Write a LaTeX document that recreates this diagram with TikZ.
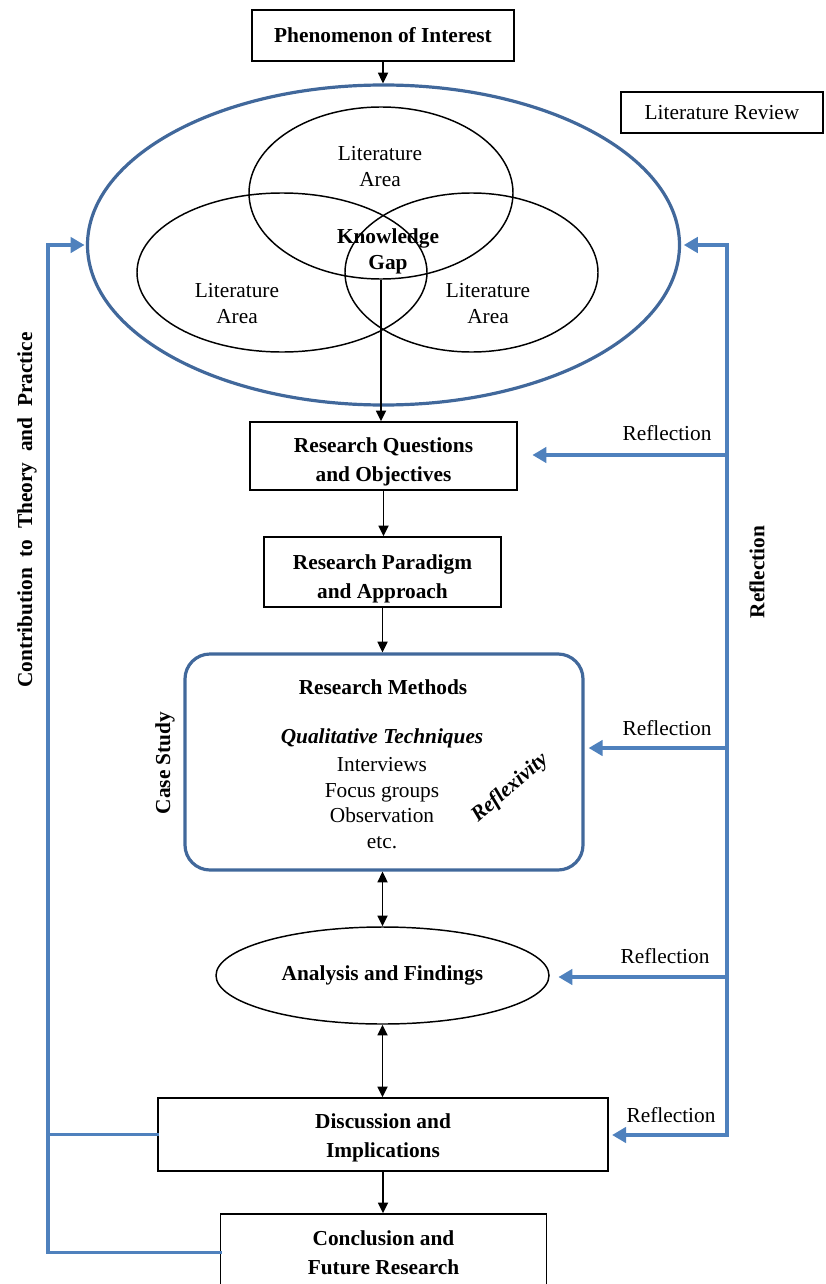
\documentclass[tikz,border=0pt]{standalone}
\usepackage{fontspec}
\setmainfont{Liberation Serif}
\usetikzlibrary{arrows.meta,shapes.geometric}
\definecolor{shapeblue}{HTML}{41689B}
\definecolor{linkblue}{HTML}{4F81BD}
\newcommand{\firstline}[1]{\rule{0pt}{#1}}
\begin{document}
\begin{tikzpicture}[x=0.75pt,y=-0.75pt,
  every node/.style={font=\fontsize{16}{19.5}\selectfont},
  box/.style={draw=black, line width=1.1pt, rectangle, inner sep=0pt, align=center,
    font=\fontsize{16}{21.75}\selectfont\bfseries},
  venn/.style={draw=black, line width=1.1pt, ellipse, inner sep=0pt},
  lbl/.style={align=center},
  boldlbl/.style={align=center, font=\fontsize{16}{19.5}\selectfont\bfseries},
  arr/.style={-{Triangle[length=8pt,width=7.5pt]}, line width=1.3pt, black},
  darr/.style={{Triangle[length=8pt,width=7.5pt]}-{Triangle[length=8pt,width=7.5pt]}, line width=1.3pt, black},
  bline/.style={linkblue, line width=2.8pt, line cap=rect},
  barr/.style={bline, -{Triangle[length=10.5pt,width=11.5pt]}},
]
\clip (0,0) rectangle (825,1284);

% top
\node[box, minimum width=196.5pt, minimum height=38.25pt] (phen) at (383,35.5) {Phenomenon of Interest};
\node[draw=black, line width=1.1pt, inner sep=0pt, minimum width=151.5pt, minimum height=30.75pt] (litrev) at (722,112.5) {Literature Review};

% literature ellipse and Venn
\node[ellipse, draw=shapeblue, line width=2.4pt, inner sep=0pt, minimum width=444pt, minimum height=240pt] (outer) at (383.5,245) {};
\node[venn, minimum width=198pt, minimum height=129pt] (vtop) at (381,193) {};
\node[venn, minimum width=217.5pt, minimum height=119.25pt] (vleft) at (282,272.5) {};
\node[venn, minimum width=189.75pt, minimum height=119.25pt] (vright) at (471.5,272.5) {};
\node[lbl] (ttop) at (380,167) {Literature\\Area};
\node[lbl] (tleft) at (237,303.5) {Literature\\Area};
\node[lbl] (tright) at (488,303.5) {Literature\\Area};
\node[boldlbl] (gap) at (388,251.5) {Knowledge\\Gap};

% main flow
\node[box, minimum width=200.25pt, minimum height=51pt] (rq) at (383.5,456) {\firstline{20.5pt}Research Questions\\and Objectives};
\node[box, minimum width=177.75pt, minimum height=52.5pt] (rp) at (382.5,572) {\firstline{21.5pt}Research Paradigm\\and Approach};
\node[draw=shapeblue, line width=2.4pt, rounded corners=18.75pt, inner sep=0pt, minimum width=298.5pt, minimum height=162pt] (meth) at (384,762) {};
\node[boldlbl] (methtitle) at (383,687) {Research Methods};
\node[font=\fontsize{16}{19.5}\selectfont\bfseries\itshape] (qual) at (382,738) {Qualitative Techniques};
\node[lbl, font=\fontsize{16}{19.1}\selectfont] (techs) at (382,803) {Interviews\\Focus groups\\Observation\\etc.};
\node[rotate=41, font=\fontsize{16}{19.5}\selectfont\bfseries\itshape] (reflex) at (510,788) {Reflexivity};
\node[rotate=90, boldlbl] (case) at (165,763) {Case Study};
\node[ellipse, draw=black, line width=1.1pt, inner sep=0pt, minimum width=249.75pt, minimum height=72.75pt, font=\fontsize{16}{19.5}\selectfont\bfseries] (ana) at (382.5,975.5) {Analysis and Findings};
\node[box, minimum width=337.5pt, minimum height=54.75pt] (disc) at (383,1134.5) {\firstline{15.5pt}Discussion and\\Implications};
\node[box, minimum width=244.5pt, minimum height=57.75pt] (concl) at (383.5,1252.5) {Conclusion and\\Future Research};

% side labels
\node (rf1) at (667,433) {Reflection};
\node (rf2) at (667,728) {Reflection};
\node (rf3) at (665,956) {Reflection};
\node (rf4) at (671,1115) {Reflection};
\node[rotate=90, boldlbl] (rfv) at (757,572) {Reflection};
\node[rotate=90, boldlbl] (contrib) at (27,510) {Contribution\ \ to\ \ Theory\ \ and\ \ Practice};

% black arrows
\draw[arr] (phen.south) -- (phen.south |- outer.north);
\draw[arr] (vtop.south) -- (vtop.south |- rq.north);
\draw[arr] (rq.south) -- (rq.south |- rp.north);
\draw[arr] (rp.south) -- (rp.south |- meth.north);
\draw[darr] (meth.south -| ana.north) -- (ana.north);
\draw[darr] (ana.south) -- (ana.south |- disc.north);
\draw[arr] (disc.south) -- (disc.south |- concl.north);

% right reflection bus
\coordinate (rtop) at (727,245);
\coordinate (r1) at (727,455);
\coordinate (r2) at (727,748);
\coordinate (r3) at (727,977);
\coordinate (rbot) at (727,1135);
\draw[barr, shorten >=2pt] (rbot) -- (rtop) -- (outer.east);
\draw[barr, shorten >=11pt] (r1) -- (r1 -| rq.east);
\draw[barr, shorten >=3pt] (r2) -- (r2 -| meth.east);
\draw[barr, shorten >=6.5pt] (r3) -- (r3 -| ana.east);
\draw[barr, shorten >=2.5pt] (rbot) -- (rbot -| disc.east);

% left contribution bus
\coordinate (ltop) at (48,245);
\coordinate (lmid) at (48,1134.5);
\coordinate (lbot) at (48,1252.5);
\draw[barr, shorten >=1pt] (concl.west) -- (lbot) -- (ltop) -- (outer.west);
\draw[bline] (disc.west) -- (lmid);
\end{tikzpicture}
\end{document}
